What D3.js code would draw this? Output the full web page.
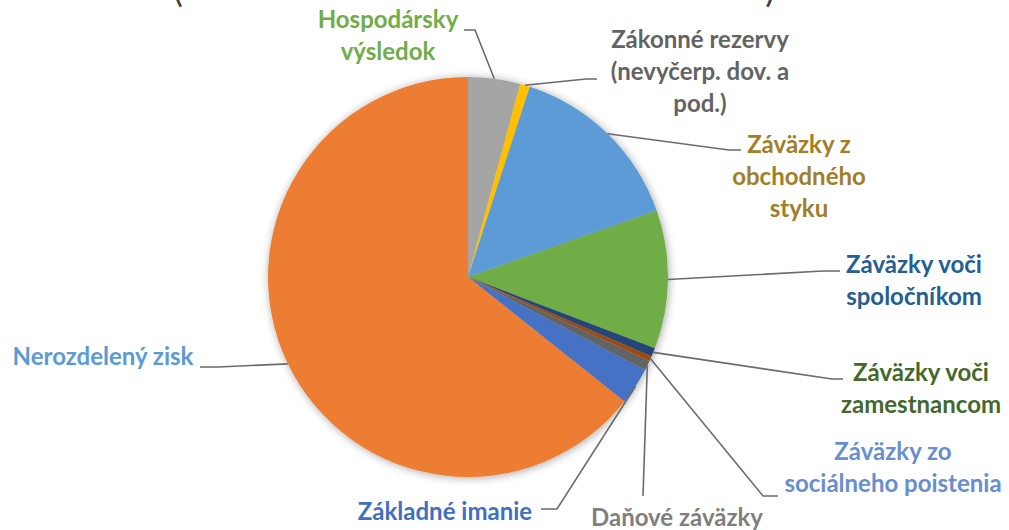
<!doctype html>
<html lang="sk">
<head>
<meta charset="utf-8">
<script src="https://d3js.org/d3.v7.min.js"></script>
<style>
  body { margin: 0; background: #fff; }
  text { font-family: Lato, "Open Sans", sans-serif; font-weight: bold; }
</style>
</head>
<body>
<svg id="chart" width="1009" height="530"></svg>
<script>
// data (v poradí ako v Exceli, %)
var categories = ["Základné imanie", "Nerozdelený zisk", "Hospodársky výsledok", "Zákonné rezervy (nevyčerp. dov. a pod.)",
  "Záväzky z obchodného styku", "Záväzky voči spoločníkom", "Záväzky voči zamestnancom",
  "Záväzky zo sociálneho poistenia", "Daňové záväzky"];
var values = [3.0, 64.3, 4.2, 0.8, 14.6, 11.2, 0.7, 0.4, 0.8];
var labelLines = [["Základné imanie"], ["Nerozdelený zisk"], ["Hospodársky", "výsledok"],
  ["Zákonné rezervy", "(nevyčerp. dov. a", "pod.)"], ["Záväzky z", "obchodného", "styku"],
  ["Záväzky voči", "spoločníkom"], ["Záväzky voči", "zamestnancom"],
  ["Záväzky zo", "sociálneho poistenia"], ["Daňové záväzky"]];

var sliceColors = ["#4472C4", "#ED7D31", "#A5A5A5", "#FFC000", "#5B9BD5", "#70AD47", "#264478", "#9E480E", "#636363"];
var labelColors = ["#3F6FC2", "#5B9BD5", "#70AD47", "#636363", "#A17E27", "#255E91", "#43682B", "#698ED0", "#7F7F7F"];

// where each label sits: text centre x, first baseline y, elbow + stub end of the leader line
var layout = [
  {x: 445, y: 520, ex: 557, ey: 509, sx: 541},
  {x: 103, y: 365, ex: 218, ey: 367, sx: 200},
  {x: 388, y: 28,  ex: 475, ey: 30,  sx: 464},
  {x: 700, y: 48,  ex: 586, ey: 79,  sx: 597},
  {x: 799, y: 153, ex: 729, ey: 150, sx: 741},
  {x: 914, y: 273, ex: 823, ey: 271, sx: 840},
  {x: 921, y: 381, ex: 832, ey: 379, sx: 843},
  {x: 893, y: 460, ex: 763, ey: 496, sx: 778},
  {x: 677, y: 526, ex: 643, ey: 496, sx: 643}
];

var cx = 468, cy = 277, r = 200;
var svg = d3.select("#chart");

var defs = svg.append("defs");
defs.append("filter").attr("id", "shadow").attr("x", "-20%").attr("y", "-20%").attr("width", "140%").attr("height", "140%")
  .append("feDropShadow").attr("dx", 1).attr("dy", 1).attr("stdDeviation", 4)
  .attr("flood-color", "#000").attr("flood-opacity", 0.35);

// title (cut off at the top)
svg.append("text").attr("x", 178).attr("y", 2).attr("text-anchor", "middle")
  .style("font-size", "36px").style("font-weight", "normal").attr("fill", "#404040").text("(");
svg.append("text").attr("x", 770).attr("y", 2).attr("text-anchor", "middle")
  .style("font-size", "36px").style("font-weight", "normal").attr("fill", "#404040").text(")");

var total = d3.sum(values);
// rotate so that the end of "Nerozdelený zisk" is at 12 o'clock
var start = -2 * Math.PI * (values[0] + values[1]) / total;
var pie = d3.pie().sort(null).value(function(d) { return d; })
  .startAngle(start).endAngle(start + 2 * Math.PI);
var arcs = pie(values);

var arc = d3.arc().innerRadius(0).outerRadius(r);
var edge = d3.arc().innerRadius(r).outerRadius(r);

var g = svg.append("g").attr("transform", "translate(" + cx + "," + cy + ")");
g.append("g").attr("filter", "url(#shadow)")
  .selectAll("path").data(arcs).enter().append("path")
  .attr("d", arc)
  .attr("fill", function(d, i) { return sliceColors[i]; });

// leader lines
var line = d3.line();
svg.append("g").selectAll("path").data(arcs).enter().append("path")
  .attr("d", function(d, i) {
    var c = edge.centroid(d);
    var L = layout[i];
    return line([[cx + c[0], cy + c[1]], [L.ex, L.ey], [L.sx, L.ey]]);
  })
  .attr("fill", "none").attr("stroke", "#6b6b6b").attr("stroke-width", 1.6);

// labels
var lab = svg.append("g").selectAll("text").data(labelLines).enter().append("text")
  .attr("text-anchor", "middle")
  .attr("fill", function(d, i) { return labelColors[i]; })
  .style("font-size", "24px");
lab.each(function(lines, i) {
  var t = d3.select(this);
  lines.forEach(function(s, k) {
    t.append("tspan").attr("x", layout[i].x).attr("y", layout[i].y + k * 32).text(s);
  });
});
</script>
</body>
</html>
